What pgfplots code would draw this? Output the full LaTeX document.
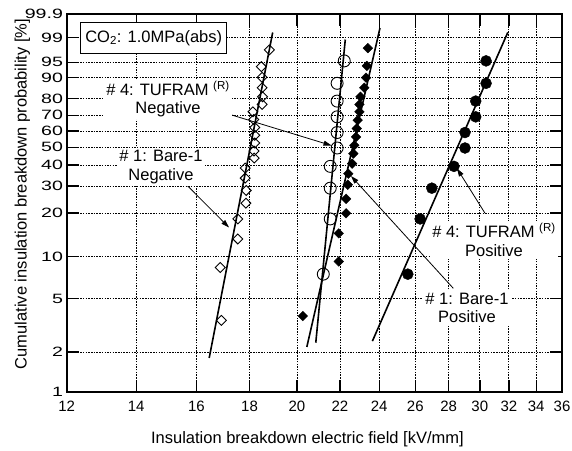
\documentclass[border=0pt]{standalone}
\usepackage{fontspec}
\setmainfont{Liberation Sans}
\usepackage{pgfplots}
\pgfplotsset{compat=1.18}
\usetikzlibrary{arrows.meta}

\newcommand\lblfont{\fontsize{16.5bp}{18.5bp}\selectfont}

\begin{document}
\begin{tikzpicture}
\useasboundingbox (-66.7bp,-59bp) rectangle (505.3bp,392bp);
\begin{axis}[
  scale only axis,
  width=495.3bp, height=378bp,
  xmode=log,
  xmin=12, xmax=36,
  xtick={12,14,16,18,20,22,24,26,28,30,32,34,36},
  xticklabels={12,14,16,18,20,22,24,26,28,30,32,34,36},
  % Weibull probability scale
  y coord trafo/.code={\pgfmathparse{ln(-ln(1-#1/100))}},
  y coord inv trafo/.code={\pgfmathparse{100*(1-exp(-exp(#1)))}},
  ymin=1, ymax=99.9,
  ytick={1,2,5,10,20,30,40,50,60,70,80,90,95,99,99.9},
  yticklabels={1,2,5,10,20,30,40,50,60,70,80,90,95,99,99.9},
  tick align=inside,
  major tick length=12bp,
  every tick/.style={black, line width=1.4bp},
  axis line style={line width=2bp},
  grid=major,
  major grid style={black, line width=0.9bp, dash pattern=on 1.5bp off 1.2bp},
  xticklabel style={font=\fontsize{15bp}{17bp}\selectfont, inner sep=0pt, anchor=north, yshift=-9.3bp},
  yticklabel style={font=\fontsize{13.5bp}{15bp}\selectfont, anchor=east, inner sep=0pt, xshift=-3.5bp, xscale=1.45},
  xlabel={Insulation breakdown electric field [kV/mm]},
  ylabel={Cumulative insulation breakdown probability [\%]},
  xlabel style={font=\lblfont, at={(axis description cs:0.486,0)}, anchor=base, yshift=-51.5bp},
  ylabel style={font=\lblfont, at={(axis description cs:-0.0808,0.524)}, rotate=0, anchor=base},
  clip=false,
]

% #1 Bare-1, negative polarity
\addplot[only marks, mark=square, mark size=3.5bp, mark options={rotate=45, line width=0.9bp, fill=none}]
coordinates {(18.81,97.55) (18.48,93.79) (18.51,90.11) (18.51,85.53) (18.53,80.89) (18.51,76.57) (18.14,72.11) (18.17,67.36) (18.21,62.28) (18.21,57.41) (18.21,52.64) (18.18,47.84) (18.19,43.82) (17.83,38.44) (17.83,33.51) (17.87,28.11) (17.86,23.27) (17.54,18.31) (17.54,13.34) (16.87,8.39) (16.91,3.47)};

% #4 TUFRAM, negative polarity
\addplot[only marks, mark=o, mark size=6bp, mark options={line width=0.9bp}]
coordinates {(22.21,95.35) (21.86,87.58) (21.86,78.48) (21.86,69.00) (21.86,59.12) (21.86,49.61) (21.53,39.32) (21.53,29.06) (21.53,18.31) (21.20,7.52)};

% #1 Bare-1, positive polarity
\addplot[only marks, mark=square*, mark size=3.4bp, mark options={rotate=45, fill=black}]
coordinates {(23.40,97.81) (23.35,94.00) (23.31,89.96) (23.22,85.53) (23.02,80.89) (22.97,76.57) (22.97,72.11) (22.88,66.92) (22.83,61.65) (22.80,56.35) (22.71,51.23) (22.66,46.33) (22.60,40.75) (22.41,35.62) (22.38,30.51) (22.30,24.86) (22.30,19.98) (21.94,14.59) (21.94,9.27) (20.26,3.73)};

% #4 TUFRAM, positive polarity
\addplot[only marks, mark=*, mark size=5.5bp, mark options={fill=black}]
coordinates {(30.42,95.35) (30.42,87.58) (29.73,78.48) (29.73,69.00) (29.03,59.12) (29.03,49.61) (28.33,39.32) (26.97,29.06) (26.28,18.31) (25.57,7.52)};

% Weibull fit lines
\addplot[black, line width=1.6bp, no marks] coordinates {(16.46,1.83) (18.95,99.33)};
\addplot[black, line width=1.6bp, no marks] coordinates {(20.85,2.37) (22.26,98.81)};
\addplot[black, line width=1.6bp, no marks] coordinates {(20.44,2.21) (24.04,99.55)};
\addplot[black, line width=1.6bp, no marks] coordinates {(23.64,2.44) (31.92,99.33)};

% leader arrows
\draw[line width=0.8bp, -{Triangle[length=8bp,width=5bp]}] (rel axis cs:0.3331,0.7328) -- (rel axis cs:0.5346,0.6521);
\draw[line width=0.8bp, -{Triangle[length=8bp,width=5bp]}] (rel axis cs:0.2423,0.5476) -- (rel axis cs:0.3277,0.4352);
\draw[line width=0.8bp, -{Triangle[length=8bp,width=5bp]}] (rel axis cs:0.7805,0.2743) -- (rel axis cs:0.5740,0.5714);
\draw[line width=0.8bp, -{Triangle[length=8bp,width=5bp]}] (rel axis cs:0.8446,0.4728) -- (rel axis cs:0.7880,0.5913);

% labels
\node[draw, line width=1.5bp, fill=white, minimum width=146bp, minimum height=30.6bp, font=\lblfont]
  at (rel axis cs:0.1757,0.9365) {CO\textsubscript{2}: 1.0MPa(abs)};
\node[fill=white, inner sep=2bp, align=center, font=\lblfont]
  at (rel axis cs:0.2045,0.7751) {\# 4: TUFRAM \textsuperscript{(R)}\\Negative};
\node[fill=white, inner sep=2bp, align=center, font=\lblfont]
  at (rel axis cs:0.1904,0.5952) {\# 1: Bare-1\\Negative};
\node[fill=white, inner sep=2bp, align=center, font=\lblfont]
  at (rel axis cs:0.8627,0.4021) {\# 4: TUFRAM \textsuperscript{(R)}\\Positive};
\node[fill=white, inner sep=2bp, align=center, font=\lblfont]
  at (rel axis cs:0.8082,0.2222) {\# 1: Bare-1\\Positive};
\end{axis}
\end{tikzpicture}
\end{document}
